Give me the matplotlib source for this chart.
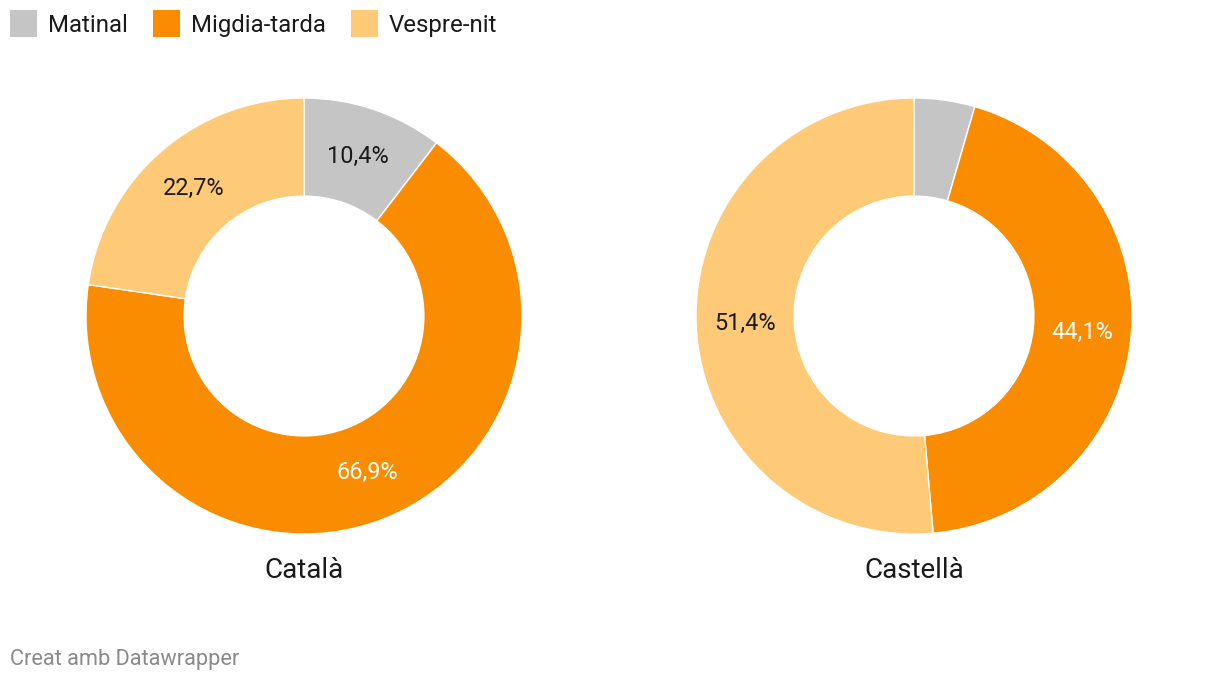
import matplotlib
matplotlib.use("Agg")
import matplotlib.pyplot as plt
from matplotlib.patches import Rectangle
import numpy as np

plt.rcParams['font.family'] = ['Roboto', 'DejaVu Sans']

categories = ["Matinal", "Migdia-tarda", "Vespre-nit"]
colors = ["#c5c5c5", "#f98c00", "#feca78"]
label_colors = ["#1a1a1a", "white", "#1a1a1a"]

panels = ["Català", "Castellà"]
values = {
    "Català": [10.4, 66.9, 22.7],
    "Castellà": [4.5, 44.1, 51.4],
}

W, H = 1220, 682
fig = plt.figure(figsize=(W / 100, H / 100), dpi=100)

R_PX = 218
centers = [(304, 316), (914, 316)]

for name, (cx, cy) in zip(panels, centers):
    ax = fig.add_axes([(cx - R_PX) / W, 1 - (cy + R_PX) / H, 2 * R_PX / W, 2 * R_PX / H])
    vals = values[name]
    ax.pie(vals, colors=colors, startangle=90, counterclock=False,
           radius=1, wedgeprops=dict(width=0.45, edgecolor="white", linewidth=1))
    total = sum(vals)
    start = 90.0
    # labels in the middle of the ring, small slices get none
    for v, c in zip(vals, label_colors):
        ang = np.deg2rad(start - v / total * 360 / 2)
        start -= v / total * 360
        if v < 8:
            continue
        r = 1 - 0.45 / 2
        ax.text(r * np.cos(ang), r * np.sin(ang), f"{v:.1f}%".replace(".", ","),
                ha="center", va="center", fontsize=16.9, color=c)
    ax.set_xlim(-1, 1)
    ax.set_ylim(-1, 1)
    ax.set_aspect("equal")
    ax.axis("off")
    fig.text(cx / W, 1 - 571 / H, name, ha="center", va="center", fontsize=20, color="#1a1a1a")

# legend
x = 10
for cat, col in zip(categories, colors):
    fig.patches.append(Rectangle((x / W, 1 - 37 / H), 27 / W, 27 / H, transform=fig.transFigure,
                                 facecolor=col, edgecolor="none"))
    t = fig.text((x + 38) / W, 1 - 25.5 / H, cat, ha="left", va="center", fontsize=17.3, color="#1a1a1a")
    fig.canvas.draw()
    bb = t.get_window_extent()
    x = bb.x1 + 25

fig.text(10 / W, 1 - 659 / H, "Creat amb Datawrapper", ha="left", va="center", fontsize=15.7, color="#8a8a8a")

fig.savefig("out.png", dpi=100, facecolor="white")
